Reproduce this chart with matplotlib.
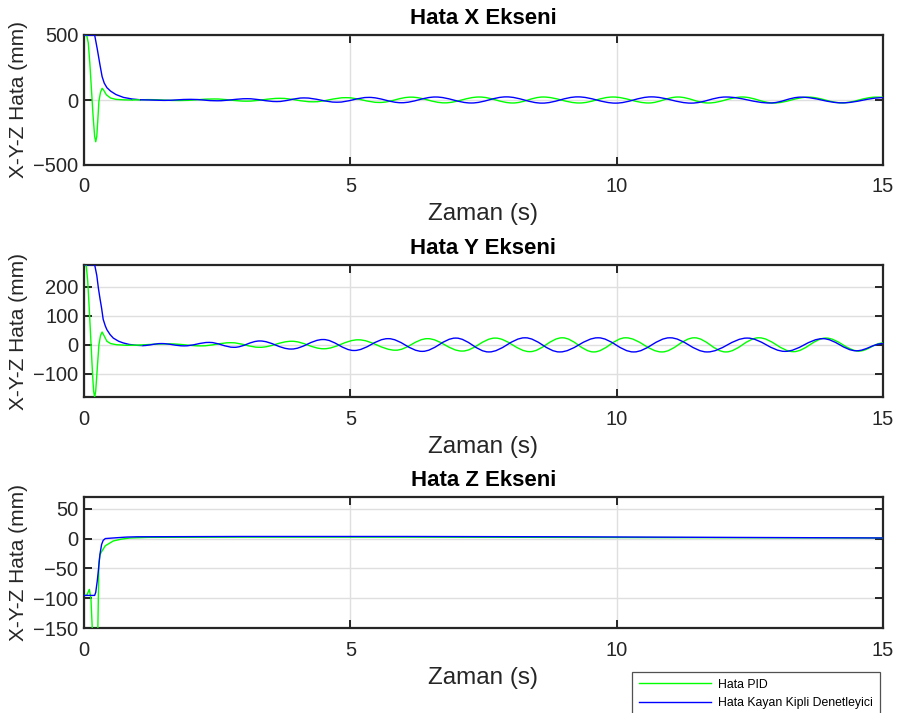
import matplotlib
matplotlib.use("Agg")
import matplotlib.pyplot as plt
from matplotlib.path import Path
from matplotlib.patches import PathPatch

# ---------------- data ----------------
time_ticks = [0, 5, 10, 15]
labels = ["Hata PID", "Hata Kayan Kipli Denetleyici"]
titles = ["Hata X Ekseni", "Hata Y Ekseni", "Hata Z Ekseni"]

# X axis error - transient parts
xg_tr_t = [0, 0.05, 0.08, 0.11, 0.14, 0.17, 0.20, 0.22, 0.24, 0.26, 0.28, 0.31, 0.34, 0.37, 0.42, 0.50, 0.60, 0.75, 0.90]
xg_tr_v = [500, 500, 440, 280, 80, -120, -280, -321, -280, -150, -10, 60, 90, 75, 40, 15, 5, 1, 0]
xb_tr_t = [0, 0.20, 0.25, 0.30, 0.34, 0.38, 0.43, 0.50, 0.60, 0.74, 0.90, 1.05]
xb_tr_v = [500, 500, 390, 270, 180, 130, 95, 68, 42, 20, 8, 2]
# X axis error - oscillation extrema
xg_os_t = [0.90, 1.20, 1.80, 2.45, 3.05, 3.68, 4.30, 4.92, 5.55, 6.14, 6.77, 7.42, 8.05, 8.62, 9.30, 9.93, 10.60, 11.15, 11.72, 12.36, 12.95, 13.60, 14.23, 14.87, 15.0]
xg_os_v = [0, 3, -4, 8, -9, 13, -14, 18, -19, 22, -22, 23, -23, 23, -23, 23, -23, 23, -23, 23, -23, 22, -22, 22, 21]
xb_os_t = [1.05, 1.50, 2.00, 2.50, 3.06, 3.62, 4.13, 4.75, 5.35, 5.96, 6.60, 7.27, 7.93, 8.60, 9.27, 9.98, 10.65, 11.40, 12.05, 12.88, 13.46, 14.23, 15.0]
xb_os_v = [2, -3, 5, -6, 10, -12, 16, -17, 20, -21, 23, -23, 24, -24, 24, -24, 24, -24, 23, -23, 22, -22, 18]

# Y axis error - transient parts
yg_tr_t = [0, 0.04, 0.07, 0.10, 0.13, 0.16, 0.18, 0.20, 0.22, 0.25, 0.28, 0.31, 0.34, 0.38, 0.43, 0.50, 0.61, 0.80]
yg_tr_v = [277, 277, 220, 120, 10, -100, -160, -182, -160, -80, 0, 32, 44, 30, 12, 4, 0, -2]
yb_tr_t = [0, 0.20, 0.24, 0.27, 0.30, 0.33, 0.36, 0.40, 0.43, 0.49, 0.55, 0.65, 0.74, 0.85, 0.99, 1.10]
yb_tr_v = [277, 277, 240, 196, 160, 127, 88, 65, 52, 35, 23, 12, 6, 1, -2, -3]
# Y axis error - oscillation extrema
yg_os_t = [0.80, 1.60, 2.20, 2.76, 3.30, 3.90, 4.50, 5.15, 5.85, 6.45, 7.10, 7.72, 8.37, 8.98, 9.57, 10.17, 10.85, 11.46, 12.05, 12.67, 13.32, 13.93, 14.55, 15.0]
yg_os_v = [-2, 3, -4, 7, -9, 12, -14, 17, -19, 21, -22, 23, -24, 24, -25, 24, -25, 24, -25, 24, -24, 23, -22, 6]
yb_os_t = [1.10, 1.45, 1.88, 2.35, 2.82, 3.30, 3.89, 4.49, 5.07, 5.71, 6.35, 6.98, 7.60, 8.28, 8.93, 9.65, 10.32, 11.00, 11.70, 12.45, 13.16, 13.87, 14.50, 15.0]
yb_os_v = [-3, 4, -4, 8, -9, 13, -15, 18, -20, 21, -23, 23, -25, 24, -25, 24, -25, 24, -25, 23, -23, 21, -21, 4]

# Z axis error
zg_t = [0, 0.05, 0.10, 0.13, 0.16, 0.20, 0.24, 0.26, 0.28, 0.30, 0.33, 0.40, 0.55, 0.70, 0.86, 1.2, 3, 6, 9, 12, 15]
zg_v = [-95, -95, -85, -100, -160, -230, -190, -150, -40, -27, -22, -12, -4, -1, 1, 2, 2.5, 2.5, 2, 1.5, 1]
zb_t = [0, 0.20, 0.22, 0.25, 0.27, 0.30, 0.33, 0.36, 0.40, 0.55, 0.80, 1.0, 3, 6, 9, 12, 15]
zb_v = [-95, -95, -90, -70, -53, -26, -10, -3, 0, 1, 2.5, 3, 3.5, 3.5, 3, 2, 1]

# axis settings
ylims = [(-500, 500), (-182, 277), (-150, 70)]
yticks = [[-500, 0, 500], [-100, 0, 100, 200], [-150, -100, -50, 0, 50]]

# ---------------- style ----------------
GREEN = (0.0, 1.0, 0.0)
BLUE = (0.0, 0.0, 1.0)
AXC = "#262626"
plt.rcParams["font.family"] = ["Liberation Sans", "DejaVu Sans"]

fig = plt.figure(figsize=(8.99, 7.13), dpi=100)
W, H = 899.0, 713.0
boxes = [(35, 165), (264.7, 397.3), (496.7, 628.3)]
left, right = 84, 883


def smooth(ax, ts, vs, color):
    k = 0.364
    verts = [(ts[0], vs[0])]
    codes = [Path.MOVETO]
    for i in range(len(ts) - 1):
        dt = ts[i + 1] - ts[i]
        verts += [(ts[i] + k * dt, vs[i]), (ts[i + 1] - k * dt, vs[i + 1]), (ts[i + 1], vs[i + 1])]
        codes += [Path.CURVE4] * 3
    p = PathPatch(Path(verts, codes), facecolor="none", edgecolor=color, lw=1.0,
                  transform=ax.transData, zorder=3)
    ax.add_patch(p)


series = [
    (xg_tr_t, xg_tr_v, xb_tr_t, xb_tr_v, (xg_os_t, xg_os_v), (xb_os_t, xb_os_v)),
    (yg_tr_t, yg_tr_v, yb_tr_t, yb_tr_v, (yg_os_t, yg_os_v), (yb_os_t, yb_os_v)),
    (zg_t, zg_v, zb_t, zb_v, None, None),
]

handles = None
for i, (top, bot) in enumerate(boxes):
    ax = fig.add_axes([left / W, 1 - bot / H, (right - left) / W, (bot - top) / H])
    gt, gv, bt, bv, gos, bos = series[i]
    lg, = ax.plot(gt, gv, color=GREEN, lw=1.0, zorder=3)
    lb, = ax.plot(bt, bv, color=BLUE, lw=1.0, zorder=3)
    if gos is not None:
        smooth(ax, gos[0], gos[1], GREEN)
        smooth(ax, bos[0], bos[1], BLUE)
    handles = [lg, lb]
    ax.set_xlim(0, 15)
    ax.set_ylim(*ylims[i])
    ax.set_xticks(time_ticks)
    ax.set_yticks(yticks[i])
    ax.grid(True, color="#dfdfdf", lw=1.0, zorder=0)
    ax.set_axisbelow(True)
    for s in ax.spines.values():
        s.set_color(AXC)
        s.set_linewidth(1.6)
    ax.tick_params(direction="in", length=6, width=1.4, colors=AXC, labelsize=14.5,
                   top=True, right=True)
    ax.tick_params(axis="x", pad=9)
    ax.tick_params(axis="y", pad=4)
    ax.set_title(titles[i], fontsize=16, fontweight="bold", color="black", pad=8)
    ax.set_xlabel("Zaman (s)", fontsize=17.5, color=AXC, labelpad=5)
    ax.set_ylabel("X-Y-Z Hata (mm)", fontsize=15, color=AXC, labelpad=4)

leg = fig.legend(handles, labels, loc="upper left", bbox_to_anchor=(632 / W, 1 - 672 / H),
                 fontsize=8.8, frameon=True, fancybox=False, edgecolor=AXC,
                 borderaxespad=0, borderpad=0.55, handlelength=5.9, handletextpad=0.6,
                 labelspacing=0.55)
leg.get_frame().set_linewidth(0.9)

fig.savefig("out.png", dpi=100)
